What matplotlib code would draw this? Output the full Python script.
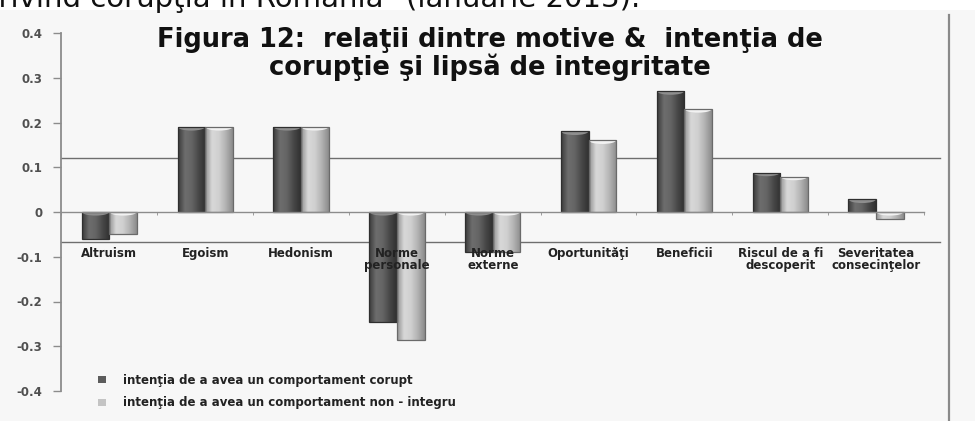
import matplotlib
matplotlib.use('Agg')
import matplotlib.pyplot as plt
import numpy as np
from matplotlib.patches import Rectangle, Ellipse
from matplotlib.lines import Line2D
from matplotlib.colors import LinearSegmentedColormap

# ---------------- data ----------------
categories = ['Altruism', 'Egoism', 'Hedonism', 'Norme\npersonale', 'Norme\nexterne',
              'Oportunităţi', 'Beneficii', 'Riscul de a fi\ndescoperit',
              'Severitatea\nconsecinţelor']
corupt = [-0.06, 0.19, 0.19, -0.245, -0.09, 0.18, 0.27, 0.088, 0.028]
non_integru = [-0.05, 0.19, 0.19, -0.285, -0.09, 0.16, 0.23, 0.079, -0.015]
yticks = [-0.4, -0.3, -0.2, -0.1, 0.0, 0.1, 0.2, 0.3, 0.4]
ytick_labels = ['-0.4', '-0.3', '-0.2', '-0.1', '0', '0.1', '0.2', '0.3', '0.4']
ref_lines = [0.121, -0.067]
legend_labels = ['intenţia de a avea un comportament corupt',
                 'intenţia de a avea un comportament non - integru']
title_text = 'Figura 12:  relaţii dintre motive &  intenţia de\ncorupţie şi lipsă de integritate'
header_text = 'privind corupţia în România" (ianuarie 2013).'

W, H = 975, 421
fig = plt.figure(figsize=(W / 100, H / 100), dpi=100, facecolor='#f7f7f7')

# white strip at the top with clipped header text
fig.patches.append(Rectangle((0, 1 - 10 / H), 1, 10 / H, transform=fig.transFigure,
                             facecolor='white', edgecolor='none', zorder=0))
fig.text(-20 / W, 1 - 7 / H, header_text, fontsize=21, color='#111111',
         va='baseline', ha='left', family='DejaVu Sans')

# right border line
fig.add_artist(Line2D([949 / W, 949 / W], [0, 1 - 15 / H], transform=fig.transFigure,
                      color='#8a8a8a', lw=1.6))

left, right = 61.5 / W, 924 / W
bottom, top = 1 - 391 / H, 1 - 33 / H
ax = fig.add_axes([left, bottom, right - left, top - bottom])
ax.set_facecolor('none')
ax.set_axisbelow(False)

x = np.arange(len(categories))
w = 0.288
dark_base = '#5c5c5c'
light_base = '#c4c4c4'
b1 = ax.bar(x - w / 2, corupt, w, color=dark_base, edgecolor='none', zorder=1.8,
            label=legend_labels[0])
b2 = ax.bar(x + w / 2, non_integru, w, color=light_base, edgecolor='none', zorder=1.8,
            label=legend_labels[1])

cm_dark = LinearSegmentedColormap.from_list('d', ['#3a3a3a', '#6e6e6e', '#646464', '#474747', '#303030'])
cm_light = LinearSegmentedColormap.from_list('l', ['#929292', '#d8d8d8', '#d0d0d0', '#b2b2b2', '#8c8c8c'])
grad = np.linspace(0, 1, 64).reshape(1, -1)
cup_colors = {id(b1): '#8e8e8e', id(b2): '#f2f2f2'}
for bars, cmap in ((b1, cm_dark), (b2, cm_light)):
    for p in bars:
        x0, y0 = p.get_x(), p.get_y()
        bw, bh = p.get_width(), p.get_height()
        im = ax.imshow(grad, cmap=cmap, aspect='auto', zorder=1.9,
                       extent=(x0, x0 + bw, y0, y0 + bh), interpolation='bilinear')
        im.set_clip_path(p)
        ytop = max(y0, y0 + bh)
        cup = Ellipse((x0 + bw / 2, ytop), bw * 0.98, 0.016, facecolor=cup_colors[id(bars)],
                      edgecolor='none', zorder=1.95)
        ax.add_patch(cup)
        cup.set_clip_path(p)
ax.bar(x - w / 2, corupt, w, fill=False, edgecolor='#2f2f2f', lw=0.9, zorder=2.0)
ax.bar(x + w / 2, non_integru, w, fill=False, edgecolor='#6a6a6a', lw=0.9, zorder=2.0)

ax.set_xlim(-0.5, len(categories) - 0.5)
ax.set_ylim(-0.4, 0.4)

# reference horizontal lines
for yv in ref_lines:
    ax.axhline(yv, xmin=0, xmax=1.019, color='#6e6e6e', lw=1.0, clip_on=False, zorder=1.5)

# spines
for s in ('top', 'right'):
    ax.spines[s].set_visible(False)
ax.spines['left'].set_color('#8c8c8c')
ax.spines['left'].set_linewidth(1.3)
ax.spines['bottom'].set_position(('data', 0))
ax.spines['bottom'].set_color('#8c8c8c')
ax.spines['bottom'].set_linewidth(1.0)

ax.set_yticks(yticks)
ax.set_yticklabels(ytick_labels, fontsize=8.5, fontweight='bold', color='#505050')
ax.tick_params(axis='y', direction='out', length=5.8, width=1, color='#8c8c8c', pad=8)

ax.set_xticks(x)
ax.set_xticklabels(categories, fontsize=8.5, fontweight='bold', color='#222222',
                   linespacing=0.95)
ax.tick_params(axis='x', which='major', length=0, pad=25)
ax.set_xticks(np.arange(len(categories) + 1) - 0.5, minor=True)
ax.tick_params(axis='x', which='minor', direction='out', length=2.5, color='#8c8c8c')

# title
fig.text(490 / W, 1 - 54 / H, title_text, fontsize=18.5, fontweight='bold',
         ha='center', va='center', color='#111111', linespacing=1.0)

# legend
leg = fig.legend(handles=[b1, b2], labels=legend_labels, loc='upper left',
                 bbox_to_anchor=(98 / W, 1 - 374 / H), frameon=False,
                 prop={'size': 8.5, 'weight': 'bold'}, handlelength=0.7,
                 handleheight=0.55, handletextpad=1.4, labelspacing=0.8,
                 borderpad=0, borderaxespad=0)
for t in leg.get_texts():
    t.set_color('#222222')

fig.savefig('out.png', dpi=100, facecolor=fig.get_facecolor())
